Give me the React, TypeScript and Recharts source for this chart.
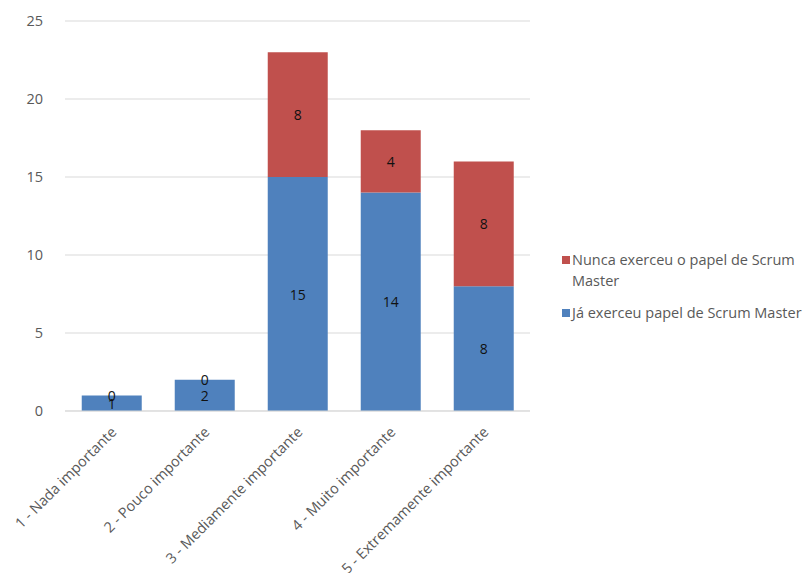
import { BarChart, Bar, XAxis, YAxis, CartesianGrid, LabelList } from 'recharts'

const categories = [
  '1 - Nada importante',
  '2 - Pouco importante',
  '3 - Mediamente importante',
  '4 - Muito importante',
  '5 - Extremamente importante',
]
const jaExerceu = [1, 2, 15, 14, 8]
const nuncaExerceu = [0, 0, 8, 4, 8]
const yTicks = [0, 5, 10, 15, 20, 25]

const BLUE = '#4F81BD'
const RED = '#C0504D'
const FONT = '"Open Sans", "DejaVu Sans", sans-serif'

const data = categories.map((name, i) => ({
  name,
  ja: jaExerceu[i],
  nunca: nuncaExerceu[i],
}))

const RotatedTick = ({ x, y, payload }: any) => (
  <text
    x={x + 6}
    y={y + 14}
    transform={`rotate(-45 ${x + 6} ${y + 14})`}
    textAnchor="end"
    fill="#595959"
    fontSize={14.5}
    fontFamily={FONT}
  >
    {payload.value}
  </text>
)

const labelStyle = { fill: '#111', fontSize: 14, fontFamily: FONT }

// blue segment label; a zero red segment on top has no height, so its "0" is drawn here at the bar top
const JaLabel = ({ x, y, width, height, value, index }: any) => {
  const cx = Number(x) + Number(width) / 2
  return (
    <g>
      <text x={cx} y={Number(y) + Number(height) / 2} textAnchor="middle" dominantBaseline="central" {...labelStyle}>
        {value}
      </text>
      {nuncaExerceu[index] === 0 && (
        <text x={cx} y={Number(y)} textAnchor="middle" dominantBaseline="central" {...labelStyle}>
          {nuncaExerceu[index]}
        </text>
      )}
    </g>
  )
}

const NuncaLabel = ({ x, y, width, height, value }: any) => (
  <text
    x={Number(x) + Number(width) / 2}
    y={Number(y) + Number(height) / 2}
    textAnchor="middle"
    dominantBaseline="central"
    {...labelStyle}
  >
    {value}
  </text>
)

const ChartLegend = () => (
  <div
    style={{
      position: 'absolute',
      left: 562,
      top: 249,
      width: 246,
      fontFamily: FONT,
      fontSize: 14.5,
      color: '#595959',
      lineHeight: '21px',
    }}
  >
    <div style={{ display: 'flex', alignItems: 'flex-start' }}>
      <span style={{ width: 8, height: 8, background: RED, marginTop: 7, marginRight: 2, flexShrink: 0 }} />
      <span>Nunca exerceu o papel de Scrum Master</span>
    </div>
    <div style={{ display: 'flex', alignItems: 'flex-start', marginTop: 11 }}>
      <span style={{ width: 8, height: 8, background: BLUE, marginTop: 7, marginRight: 2, flexShrink: 0 }} />
      <span style={{ whiteSpace: 'nowrap' }}>Já exerceu papel de Scrum Master</span>
    </div>
  </div>
)

export default function App() {
  return (
    <div style={{ position: 'absolute', left: 0, top: 0, width: 808, height: 573, background: '#fff' }}>
      <BarChart
        width={808}
        height={573}
        data={data}
        margin={{ top: 21, right: 278, bottom: 0, left: 0 }}
        barCategoryGap="18%"
      >
        <CartesianGrid vertical={false} stroke="#d9d9d9" />
        <XAxis
          dataKey="name"
          interval={0}
          height={162}
          tickLine={false}
          axisLine={{ stroke: '#d9d9d9' }}
          tick={<RotatedTick />}
        />
        <YAxis
          width={65}
          domain={[0, 25]}
          ticks={yTicks}
          tickLine={false}
          axisLine={false}
          tick={{ fill: '#595959', fontSize: 14.5, fontFamily: FONT }}
          tickMargin={16}
        />
        <Bar dataKey="ja" stackId="a" fill={BLUE} isAnimationActive={false}>
          <LabelList dataKey="ja" content={<JaLabel />} />
        </Bar>
        <Bar dataKey="nunca" stackId="a" fill={RED} isAnimationActive={false}>
          <LabelList dataKey="nunca" content={<NuncaLabel />} />
        </Bar>
      </BarChart>
      <ChartLegend />
    </div>
  )
}
